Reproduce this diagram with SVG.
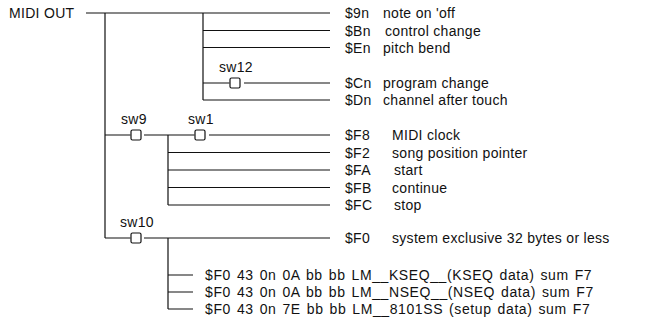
<svg xmlns="http://www.w3.org/2000/svg" width="656" height="327" viewBox="0 0 656 327">
<style>
text{font-family:"Liberation Sans",Arial,Helvetica,sans-serif;font-size:14px;letter-spacing:0.3px;fill:#111}
.lo{letter-spacing:0.6px;word-spacing:1.5px}
.w{stroke:#111;stroke-width:1.2;fill:none}
.sw{fill:#fff;stroke:#111;stroke-width:1.2}
</style>
<rect width="656" height="327" fill="#fff"/>
<g id="connectors" class="w">
<path d="M86 13H330M105 13V238M203 13V100M203 30.5H330M203 47.5H330"/>
<path d="M203 83H229.5M244 83H330M203 100H330"/>
<path d="M105 135H130.5M144 135H194.5M209 135H330M168 135V205M168 152.5H330M168 170H330M168 187.5H330M168 205H330"/>
<path d="M105 238H130.5M144 238H330M168 238V309M168 275H193M168 292H193M168 309H193"/>
</g>
<g id="midi-out"><text x="9" y="18">MIDI OUT</text></g>
<g id="sw12"><rect class="sw" x="230" y="78" width="10" height="10" rx="1.5"/><text x="219" y="72">sw12</text></g>
<g id="sw9"><rect class="sw" x="131" y="130" width="10" height="10" rx="1.5"/><text x="121" y="124">sw9</text></g>
<g id="sw1"><rect class="sw" x="195" y="130" width="10" height="10" rx="1.5"/><text x="188" y="124">sw1</text></g>
<g id="sw10"><rect class="sw" x="131" y="233" width="10" height="10" rx="1.5"/><text x="120" y="227">sw10</text></g>
<g id="m9n"><text x="345" y="18">$9n</text><text x="383" y="18">note on 'off</text></g>
<g id="mBn"><text x="345" y="35.5">$Bn</text><text x="385" y="35.5">control change</text></g>
<g id="mEn"><text x="345" y="52.5">$En</text><text x="383" y="52.5">pitch bend</text></g>
<g id="mCn"><text x="345" y="88">$Cn</text><text x="383" y="88">program change</text></g>
<g id="mDn"><text x="345" y="105">$Dn</text><text x="383" y="105">channel after touch</text></g>
<g id="mF8"><text x="345" y="140">$F8</text><text x="392" y="140">MIDI clock</text></g>
<g id="mF2"><text x="345" y="157.5">$F2</text><text x="392" y="157.5">song position pointer</text></g>
<g id="mFA"><text x="345" y="175">$FA</text><text x="394" y="175">start</text></g>
<g id="mFB"><text x="345" y="192.5">$FB</text><text x="392" y="192.5">continue</text></g>
<g id="mFC"><text x="345" y="210">$FC</text><text x="394" y="210">stop</text></g>
<g id="mF0"><text x="345" y="243">$F0</text><text x="392" y="243">system exclusive 32 bytes or less</text></g>
<g id="kseq"><text class="lo" x="205" y="280">$F0 43 0n 0A bb bb LM__KSEQ__(KSEQ data) sum F7</text></g>
<g id="nseq"><text class="lo" x="205" y="297">$F0 43 0n 0A bb bb LM__NSEQ__(NSEQ data) sum F7</text></g>
<g id="setup"><text class="lo" x="205" y="314">$F0 43 0n 7E bb bb LM__8101SS (setup data) sum F7</text></g>
</svg>
